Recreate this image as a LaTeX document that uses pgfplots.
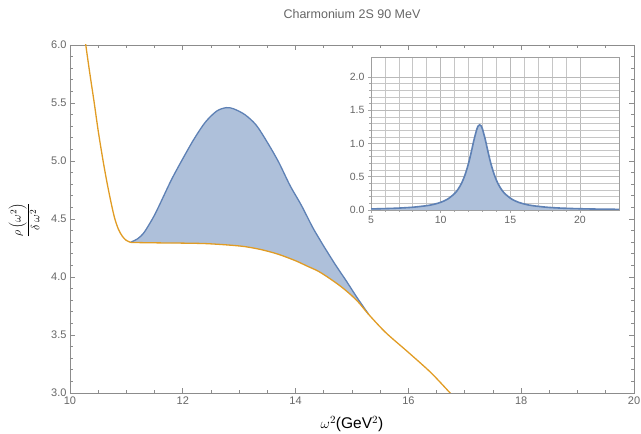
\documentclass[border=0pt]{standalone}
\usepackage{fontspec}
\setmainfont{Liberation Sans}
\usepackage{pgfplots}
\usepackage{pgfplotstable}
\pgfplotsset{compat=1.18}
\definecolor{mblue}{rgb}{0.368417,0.506779,0.709798}
\definecolor{morange}{rgb}{0.880722,0.611041,0.142051}
\definecolor{framegray}{gray}{0.55}
\definecolor{labelgray}{gray}{0.4}

% upper bound of the band
\pgfplotstableread{
x y
11.08 4.300
11.20 4.330
11.30 4.375
11.40 4.450
11.50 4.535
11.60 4.635
11.80 4.840
12.00 5.020
12.20 5.190
12.40 5.335
12.60 5.430
12.77 5.460
12.90 5.450
13.10 5.400
13.30 5.310
13.50 5.160
13.70 4.990
13.90 4.790
14.10 4.620
14.30 4.430
14.42 4.330
14.50 4.265
14.70 4.110
14.90 3.965
15.10 3.815
15.30 3.675
}\bandupper

% closed outline of the band: upper bound forward, lower bound back
\pgfplotstableread{
x y
11.08 4.300
11.20 4.330
11.30 4.375
11.40 4.450
11.50 4.535
11.60 4.635
11.70 4.738
11.80 4.840
11.90 4.932
12.00 5.020
12.10 5.107
12.20 5.190
12.30 5.265
12.40 5.335
12.50 5.389
12.60 5.430
12.70 5.452
12.77 5.460
12.90 5.450
13.00 5.430
13.10 5.400
13.20 5.360
13.30 5.310
13.40 5.240
13.50 5.160
13.60 5.077
13.70 4.990
13.80 4.890
13.90 4.790
14.00 4.703
14.10 4.620
14.20 4.527
14.30 4.430
14.42 4.330
14.50 4.265
14.60 4.187
14.70 4.110
14.80 4.037
14.90 3.965
15.00 3.890
15.10 3.815
15.20 3.743
15.30 3.675
15.20 3.735
15.10 3.790
15.00 3.837
14.90 3.880
14.80 3.920
14.70 3.955
14.56 4.000
14.42 4.045
14.30 4.073
14.20 4.095
14.10 4.118
14.00 4.140
13.85 4.165
13.70 4.195
13.55 4.217
13.40 4.235
13.25 4.250
13.10 4.262
12.95 4.270
12.80 4.276
12.60 4.283
12.40 4.288
12.00 4.292
11.60 4.294
11.30 4.296
11.08 4.298
}\bandoutline

% lower bound of the band, below the threshold
\pgfplotstableread{
x y
10.26 6.080
10.28 6.000
10.35 5.760
10.43 5.500
10.50 5.260
10.58 5.020
10.65 4.830
10.72 4.660
10.79 4.510
10.86 4.410
10.93 4.350
11.00 4.315
11.08 4.298
}\lowerleft

% lower bound of the band, above the threshold
\pgfplotstableread{
x y
11.08 4.298
11.30 4.296
11.60 4.294
12.00 4.292
12.40 4.288
12.80 4.276
13.10 4.262
13.40 4.235
13.70 4.195
14.00 4.140
14.20 4.095
14.42 4.045
14.70 3.955
14.90 3.880
15.10 3.790
15.30 3.675
15.60 3.520
16.00 3.350
16.40 3.175
16.74 3.000
16.80 2.970
}\lowerright

% spectral function (inset)
\pgfplotstableread{
x y
5.0 0.0161
6.0 0.0211
7.0 0.0288
8.0 0.0417
9.0 0.0652
9.5 0.0850
10.0 0.1151
10.5 0.1636
11.0 0.2471
11.25 0.3122
11.5 0.4024
11.75 0.5284
12.0 0.7011
12.2 0.8740
12.4 1.0610
12.6 1.2170
12.7 1.2650
12.8 1.2800
12.9 1.2650
13.0 1.2170
13.2 1.0610
13.4 0.8740
13.6 0.7011
13.85 0.5284
14.1 0.4024
14.35 0.3122
14.6 0.2471
15.1 0.1636
15.6 0.1151
16.1 0.0850
16.6 0.0652
17.6 0.0417
18.6 0.0288
19.6 0.0211
20.6 0.0161
21.6 0.0127
22.8 0.0098
}\specdata

\pgfplotsset{
  onedecimal/.style={
    yticklabel={\pgfmathprintnumber[fixed,fixed zerofill,precision=1,assume math mode=true]{\tick}},
    xticklabel={\pgfmathprintnumber[assume math mode=true]{\tick}},
  },
}

\begin{document}
\begin{tikzpicture}
\begin{axis}[
  name=main, at={(0pt,0pt)}, anchor=south west,
  scale only axis, width=564pt, height=348pt,
  xmin=10, xmax=20, ymin=3, ymax=6,
  xtick={10,12,...,20}, minor x tick num=3,
  ytick={3,3.5,...,6}, minor y tick num=4,
  tick align=inside,
  major tick length=5pt, minor tick length=3pt,
  axis line style={framegray, line width=0.8pt},
  xtick style={color=framegray, line width=0.8pt},
  ytick style={color=framegray, line width=0.8pt},
  tick label style={font=\fontsize{11}{13}\selectfont, text=labelgray},
  onedecimal,
]
\addplot[fill=mblue!50, draw=none] table {\bandoutline} -- cycle;
\addplot[mblue, line width=1.3pt, smooth] table {\bandupper};
\addplot[morange, line width=1.3pt, smooth] table {\lowerleft};
\addplot[morange, line width=1.3pt, smooth] table {\lowerright};
\end{axis}

\begin{axis}[
  name=inset, at={(301pt,183pt)}, anchor=south west,
  scale only axis, width=248pt, height=153pt,
  xmin=5, xmax=22.8, ymin=0, ymax=2.3,
  xtick={5,10,15,20}, minor x tick num=4,
  ytick={0,0.5,...,2}, minor y tick num=4,
  grid=both,
  major grid style={gray!55, line width=0.6pt},
  minor grid style={gray!45, line width=0.6pt},
  tick pos=left, tick align=outside,
  major tick length=3pt, minor tick length=2pt,
  axis background/.style={fill=white},
  axis line style={gray!75, line width=0.8pt},
  xtick style={color=gray!70, line width=0.6pt},
  ytick style={color=gray!70, line width=0.6pt},
  tick label style={font=\fontsize{10.5}{12}\selectfont, text=labelgray},
  onedecimal,
]
\addplot[fill=mblue!50, draw=none, smooth] table {\specdata} \closedcycle;
\addplot[mblue, line width=1.6pt, smooth] table {\specdata};
\end{axis}

\node[text=labelgray, font=\fontsize{12.5}{14}\selectfont] at (282pt,378.5pt) {Charmonium 2S 90 MeV};
\node[font=\fontsize{15.5}{17}\selectfont] at (282pt,-31pt) {$\omega^2$(GeV$^2$)};
\node[rotate=90, font=\fontsize{13}{15}\selectfont] at (-46pt,173pt) {$\displaystyle\frac{\rho\left(\omega^2\right)}{\delta\,\omega^2}$};

\pgfresetboundingbox
\path (-70pt,-41pt) rectangle (571pt,393pt);
\end{tikzpicture}
\end{document}
